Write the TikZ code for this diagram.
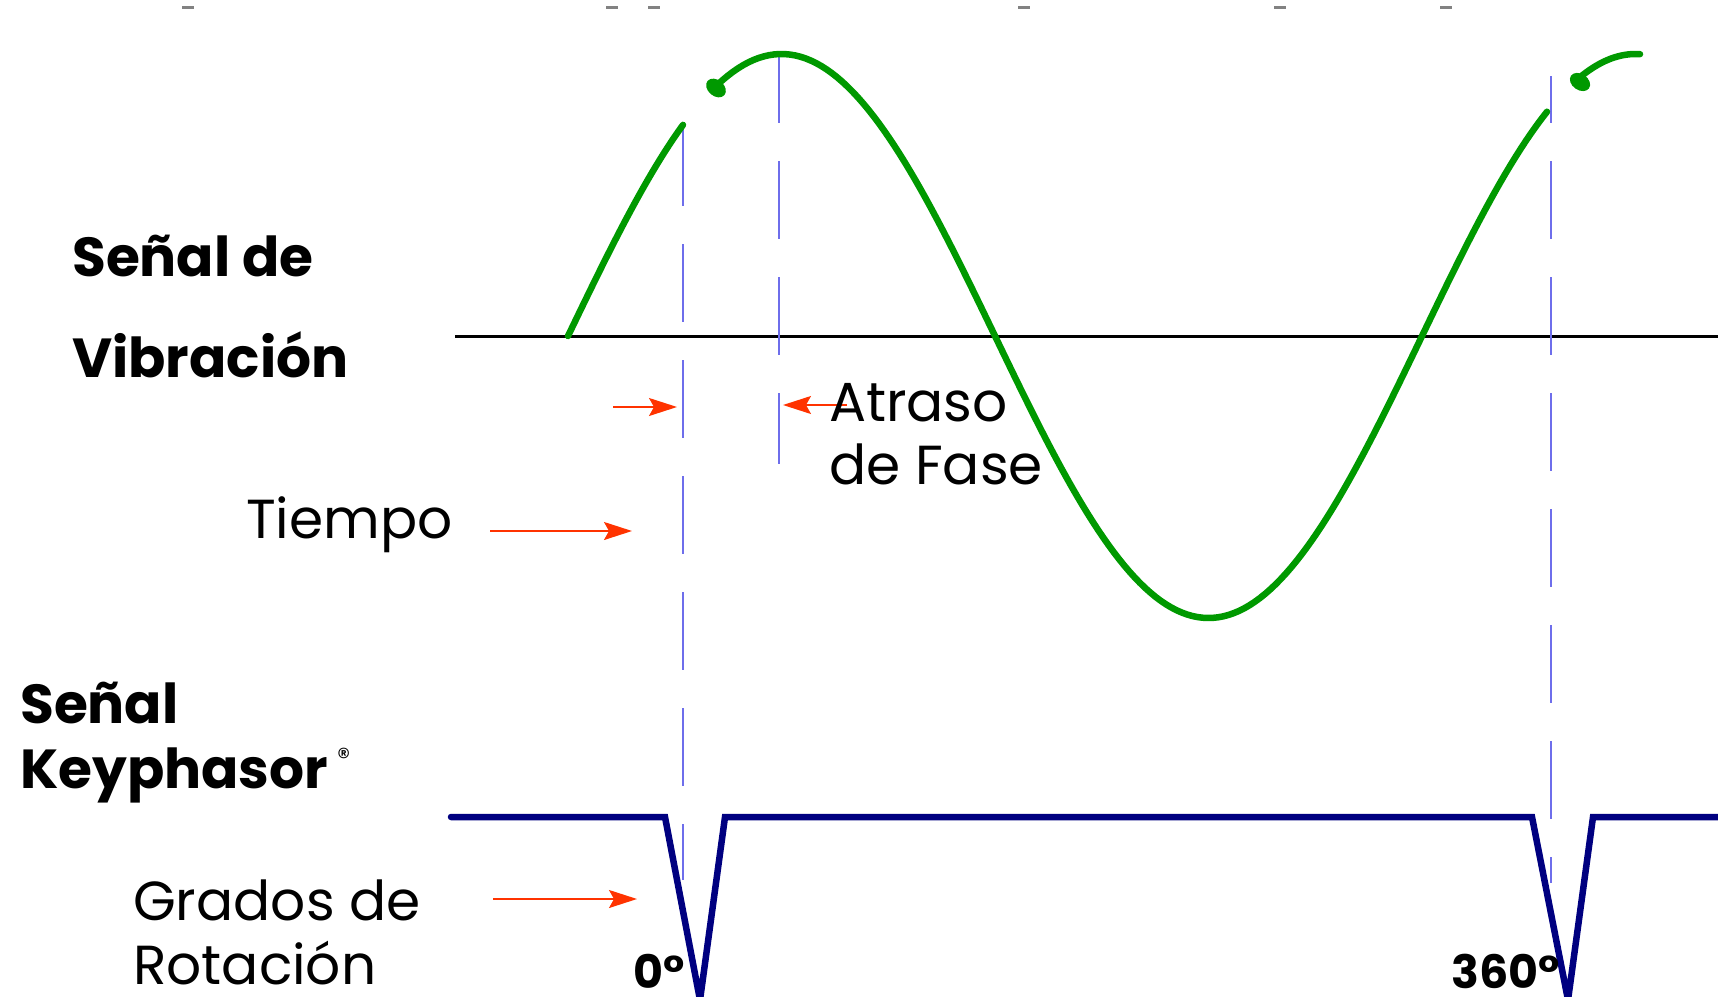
\documentclass[tikz,border=0pt]{standalone}
\usepackage{fontspec}
\setmainfont{Poppins}
\usetikzlibrary{arrows.meta}
\definecolor{sig}{RGB}{0,153,0}
\definecolor{navy}{RGB}{0,0,128}
\definecolor{gd}{RGB}{110,110,235}
\definecolor{rd}{RGB}{255,51,0}
\definecolor{tick}{RGB}{130,130,130}

\begin{document}
\begin{tikzpicture}[x=1pt,y=-1pt,>={Stealth[length=28pt,width=18pt,inset=5pt]},
  ttl/.style={inner sep=0pt,anchor=base west,font=\fontsize{55}{66}\selectfont\bfseries},
  lbl/.style={inner sep=0pt,anchor=base west,font=\fontsize{55}{66}\selectfont},
  deg/.style={inner sep=0pt,anchor=base west,font=\fontsize{46}{55}\selectfont\bfseries},
  arr/.style={->,draw=rd,line width=1.6pt},
  guide/.style={draw=gd,line width=2pt,dash pattern=on 78pt off 38pt},
  wave/.style={draw=sig,line width=6.5pt,line cap=round},
  kp/.style={draw=navy,line width=6.5pt,line cap=round,line join=miter}]
  \useasboundingbox (0,0) rectangle (1718,996);
  \clip (0,0) rectangle (1718,996);

  \foreach \x in {188,612,654,1024,1280,1446}
    \draw[tick,line width=3pt] (\x-6,7) -- (\x+6,7);

  \draw[black,line width=3pt] (455,336) -- (1718,336);

  \foreach \x/\ya/\yb/\ph in {683/128/880/0,779/53/464/8,1551/76/883/31}
    \draw[guide,dash phase=\ph pt] (\x,\ya) -- (\x,\yb);

  \draw[wave] plot[domain=568:683,samples=40] (\x,{336-282*sin((\x-568)/854*360)});
  \draw[wave] plot[domain=717:1547,samples=160] (\x,{336-282*sin((\x-568)/854*360)});
  \draw[wave] plot[domain=1580:1640,samples=20] (\x,{336-282*sin((\x-568)/854*360)});
  \fill[sig,rotate around={-40:(716,88)}] (716,88) ellipse (11 and 8);
  \fill[sig,rotate around={-35:(1580,82)}] (1580,82) ellipse (11 and 8);

  \draw[kp] (451,817) -- (665,817) -- (700,1000) -- (725,817) -- (1532,817)
    -- (1568,1000) -- (1593,817) -- (1730,817);

  \coordinate (a0) at (613,407);
  \coordinate (a1) at (677,407);
  \coordinate (b0) at (847,405);
  \coordinate (b1) at (783,405);
  \coordinate (c0) at (490,531);
  \coordinate (c1) at (632,531);
  \coordinate (e0) at (493,899);
  \coordinate (e1) at (637,899);
  \draw[arr] (a0) -- (a1);
  \draw[arr] (b0) -- (b1);
  \draw[arr] (c0) -- (c1);
  \draw[arr] (e0) -- (e1);

  \node[ttl] (vib1) at (72,276) {Señal de};
  \node[ttl] (vib2) at (72,377) {Vibración};
  \node[lbl] (tiempo) at (246,538) {Tiempo};
  \node[lbl] (atr1) at (829,421) {Atraso};
  \node[lbl] (atr2) at (829,484) {de Fase};
  \node[ttl] (kp1) at (20,723) {Señal};
  \node[ttl] (kp2) at (20,788) {Keyphasor\hspace{9pt}\raisebox{22pt}{\fontsize{26}{26}\selectfont\mdseries ®}};
  \node[lbl] (grd1) at (133,920) {Grados de};
  \node[lbl] (grd2) at (133,984) {Rotación};
  \node[deg] (d0) at (633,988) {0°};
  \node[deg] (d360) at (1451,988) {360°};
\end{tikzpicture}
\end{document}
